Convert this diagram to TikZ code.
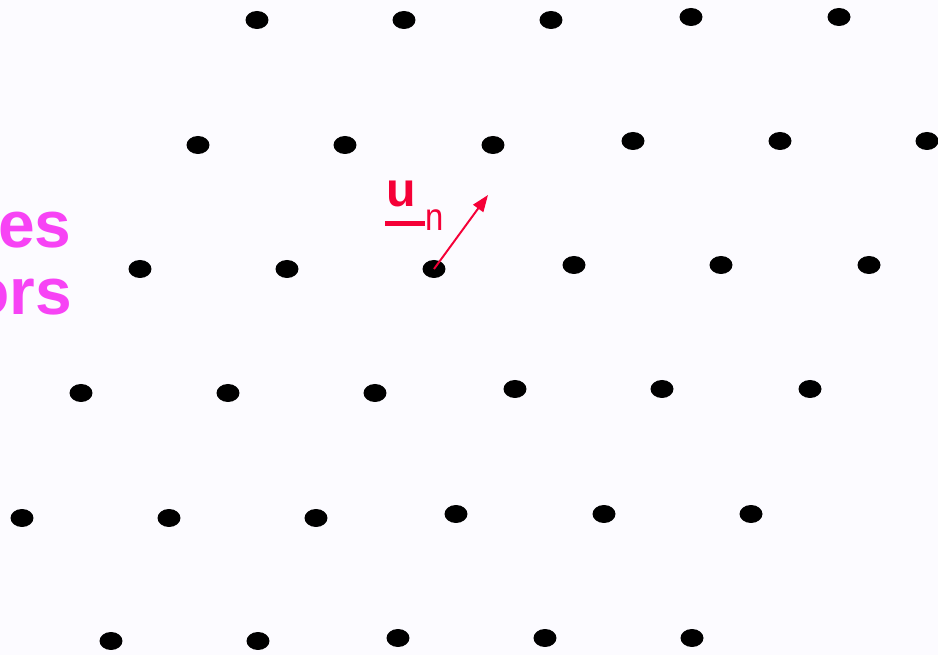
\documentclass[tikz,border=0pt]{standalone}
\usepackage{fontspec}
\setmainfont{Liberation Sans}
\usetikzlibrary{shapes.geometric,arrows.meta}
\definecolor{bg}{RGB}{252,251,255}
\definecolor{pinkt}{RGB}{247,67,245}
\definecolor{redt}{RGB}{245,0,55}
\tikzset{
  dot/.style={ellipse,fill=black,draw=none,inner sep=0pt,minimum width=0.46cm,minimum height=0.36cm},
  disp/.style={redt,line width=1.1pt,-{Triangle[length=9.5pt,width=7pt]}},
  bigtxt/.style={pinkt,inner sep=0pt,font=\fontsize{37.5}{44}\selectfont\bfseries}
}
\begin{document}
\begin{tikzpicture}[x=0.02cm,y=-0.02cm]
\useasboundingbox (0,0) rectangle (938,655);
\fill[bg] (0,0) rectangle (938,655);
\clip (0,0) rectangle (938,655);
% lattice rows
\foreach \x [count=\i] in {257,404,551,691,839}{\node[dot] (r1-\i) at (\x,{\x<600?20:17}) {};}
\foreach \x [count=\i] in {198,345,493,633,780,927}{\node[dot] (r2-\i) at (\x,{\x<600?145:141}) {};}
\foreach \x [count=\i] in {140,287,434,574,721,869}{\node[dot] (r3-\i) at (\x,{\x<500?269:265}) {};}
\foreach \x [count=\i] in {81,228,375,515,662,810}{\node[dot] (r4-\i) at (\x,{\x<450?393:389}) {};}
\foreach \x [count=\i] in {22,169,316,456,604,751}{\node[dot] (r5-\i) at (\x,{\x<400?518:514}) {};}
\foreach \x [count=\i] in {111,258,398,545,692}{\node[dot] (r6-\i) at (\x,{\x<300?641:638}) {};}
% displacement vector
\coordinate (tip) at (488,195);
\draw[disp] (r3-3.center) -- (tip);
\node[anchor=base west,inner sep=0pt,redt] (un) at (386,206.5)
  {\fontsize{27.5}{32}\selectfont\bfseries\rlap{\hspace{-0.6pt}\rule[-11pt]{22.7pt}{2.6pt}}u\hspace{5.5pt}\raisebox{-13.4pt}{\fontsize{22}{26}\selectfont\mdseries\scalebox{0.85}[1]{n}}};
% cut-off text
\node[bigtxt,anchor=base east] (t1) at (72,248) {es};
\node[bigtxt,anchor=base east] (t2) at (72,315) {ors};
\end{tikzpicture}
\end{document}
